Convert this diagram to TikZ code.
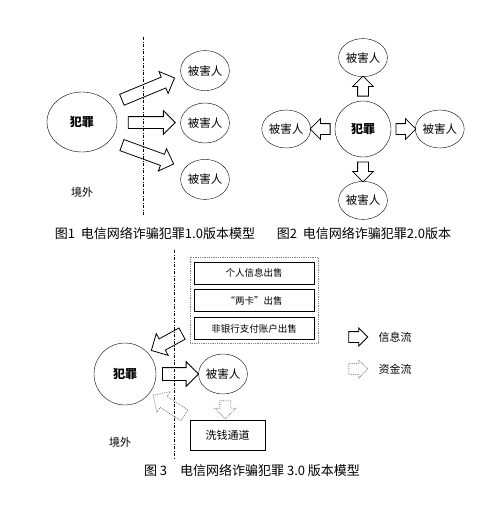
\documentclass[tikz,border=0pt]{standalone}
\usepackage{fontspec}
\setmainfont{Noto Sans CJK SC}
\usepackage{tikz}
\usetikzlibrary{shapes.geometric,shapes.arrows,positioning,calc}

\begin{document}
\begin{tikzpicture}[
    x=1pt, y=-1pt,
    node distance=24pt,
    crime/.style={draw, ellipse, inner sep=0pt, font=\fontsize{12}{12}\selectfont\bfseries},
    victim/.style={draw, ellipse, minimum width=45pt, minimum height=40pt, inner sep=0pt, font=\fontsize{11.5}{11.5}\selectfont},
    salebox/.style={draw, thick, minimum width=120pt, minimum height=22pt, inner sep=0pt, font=\fontsize{9.5}{9.5}\selectfont},
    infoarrow/.style={draw, thick, single arrow, inner sep=5.5pt, single arrow head extend=6pt, minimum height=#1},
    cashflow/.style={draw=gray, densely dotted, thick, single arrow, inner sep=5.5pt, single arrow head extend=6pt, minimum height=#1},
    border/.style={thin, dash pattern=on 3pt off 1.5pt on 1pt off 1.5pt},
    caption/.style={font=\fontsize{13}{13}\selectfont}
]
\useasboundingbox (0,0) rectangle (500,523);

% ---- figure 1
\node[crime, minimum width=70pt, minimum height=60pt] (crime1) at (82,122) {犯罪};
\node[victim] (v12) at (205,123) {被害人};
\node[victim] (v11) [above=12pt of v12] {被害人};
\node[victim] (v13) [below=16pt of v12] {被害人};
\coordinate (b1top) at (143,37);
\coordinate (b1bot) at (143,215);
\draw[border] (b1top) -- (b1bot);
\node[infoarrow=57pt, rotate=22.5] (a11) at (145.5,90) {};
\node[infoarrow=47pt] (a12) at ($(crime1.east)!0.5!(v12.west)$) {};
\node[infoarrow=55pt, rotate=-20] (a13) at (145,153.5) {};
\node[font=\fontsize{11}{11}\selectfont] (out1) at (82,192) {境外};
\node[caption] (cap1) at (155,234) {图1\ \ 电信网络诈骗犯罪1.0版本模型};

% ---- figure 2
\node[crime, minimum size=56pt] (crime2) at (363,129) {犯罪};
\node[victim, minimum width=43pt, minimum height=38pt] (v21) [above=of crime2] {被害人};
\node[victim, minimum width=43pt, minimum height=38pt] (v22) [left=of crime2] {被害人};
\node[victim, minimum width=43pt, minimum height=38pt] (v23) [right=of crime2] {被害人};
\node[victim, minimum width=43pt, minimum height=38pt] (v24) [below=of crime2] {被害人};
\node[infoarrow=20pt, inner sep=5pt, single arrow head extend=5pt, rotate=90] (a21) at ($(crime2.north)!0.5!(v21.south)$) {};
\node[infoarrow=20pt, inner sep=5pt, single arrow head extend=5pt, rotate=180] (a22) at ($(crime2.west)!0.5!(v22.east)$) {};
\node[infoarrow=20pt, inner sep=5pt, single arrow head extend=5pt] (a23) at ($(crime2.east)!0.5!(v23.west)$) {};
\node[infoarrow=20pt, inner sep=5pt, single arrow head extend=5pt, rotate=-90] (a24) at ($(crime2.south)!0.5!(v24.north)$) {};
\node[caption] (cap2) at (364,234) {图2\ \ 电信网络诈骗犯罪2.0版本};

% ---- figure 3
\coordinate (b3top) at (174,250);
\coordinate (b3bot) at (174,458);
\draw[border] (b3top) -- (b3bot);
\node[draw=gray, densely dotted, thick, minimum width=128pt, minimum height=86pt] (market) at (254,300) {};
\node[salebox] (s1) at (254,273) {个人信息出售};
\node[salebox] (s2) [below=5pt of s1] {“两卡”出售};
\node[salebox] (s3) [below=5pt of s2] {非银行支付账户出售};
\node[crime, minimum size=62pt] (crime3) at (125,374) {犯罪};
\node[victim] (v3) at (223,374) {被害人};
\node[draw, minimum width=75pt, minimum height=30pt, font=\fontsize{11}{11}\selectfont] (launder) at (227.5,435) {洗钱通道};
\node[infoarrow=36pt, inner sep=6pt] (a31) at ($(crime3.east)!0.5!(v3.west)$) {};
\node[infoarrow=35pt, inner sep=6pt, rotate=208.7] (a32) at (169.5,340.5) {};
\node[cashflow=37pt, inner sep=6pt, rotate=147.2] (a33) at (171.5,407) {};
\node[cashflow=18pt, inner sep=5pt, single arrow head extend=5pt, rotate=-90] (a34) at ($(v3.south)!0.5!(launder.north)$) {};
\node[font=\fontsize{11}{11}\selectfont] (out3) at (120,442) {境外};
% legend
\node[infoarrow=19pt, inner sep=5pt, single arrow head extend=3.5pt] (key1) at (355.5,337) {};
\node[font=\fontsize{11}{11}\selectfont] (key1txt) at (395,337) {信息流};
\node[cashflow=19pt, inner sep=5pt, single arrow head extend=3.5pt] (key2) at (355.5,369) {};
\node[font=\fontsize{11}{11}\selectfont] (key2txt) at (395,369) {资金流};
\node[caption] (cap3) at (252,471) {图\ 3\quad 电信网络诈骗犯罪\ 3.0\ 版本模型};
\end{tikzpicture}
\end{document}
